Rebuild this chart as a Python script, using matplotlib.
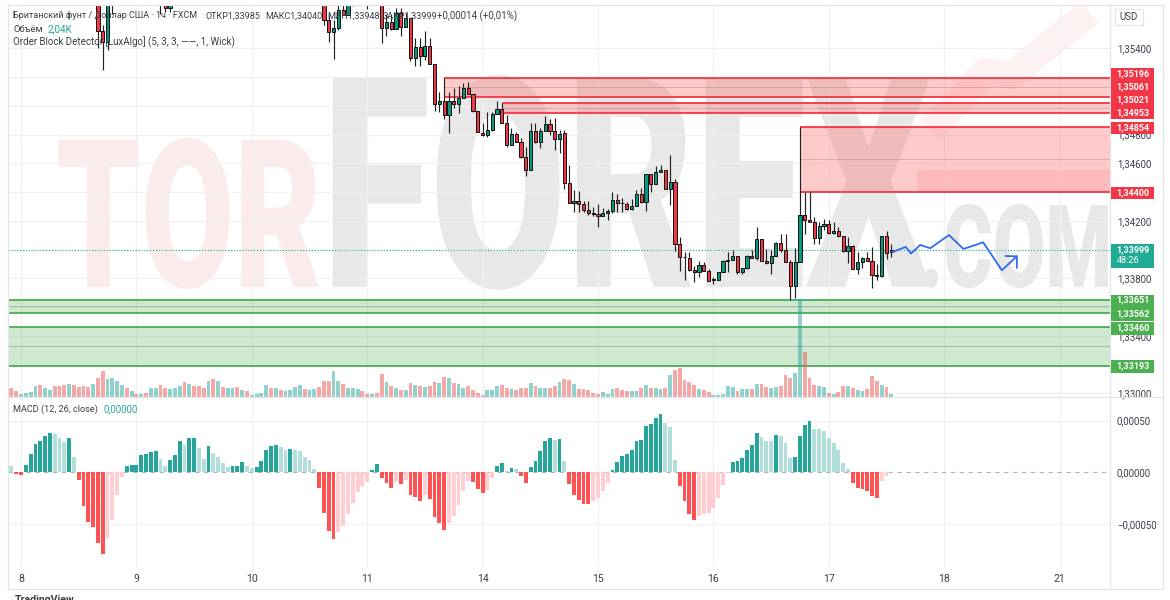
"""GBP/USD 1h chart with order blocks, volume and MACD histogram."""

import numpy as np
import matplotlib
matplotlib.use("Agg")
import matplotlib.pyplot as plt
import matplotlib.patheffects as pe
from matplotlib.lines import Line2D
from matplotlib.patches import Rectangle
from matplotlib.transforms import Affine2D

W, H = 1170, 600
PX_PER_BAR = 115.4 / 24
PRICE_PER_PX = 0.008 / 115

# bars sitting fully above the pane are left out
candle_idx = np.array([16, 17, 18, 19, 29, 30, 31, 63, 64, 65, 66, 67, 68, 69, 72] + list(range(75, 182)))
candle_open = np.array([
    1.35769, 1.35518, 1.35442, 1.3578, 1.3578, 1.35748, 1.35678, 1.35769, 1.35595, 1.35511, 1.35539, 1.35664, 1.3563, 1.3578, 1.3578,
    1.35769, 1.35539, 1.35581, 1.35532, 1.35644, 1.35546, 1.35609, 1.35330, 1.35407, 1.35344,
    1.35414, 1.35289, 1.35015, 1.35031, 1.34939, 1.35036, 1.35015, 1.35057, 1.35122, 1.35085,
    1.34962, 1.34811, 1.34797, 1.34834, 1.34946, 1.34978, 1.34883, 1.34727, 1.34807, 1.34748,
    1.34644, 1.34551, 1.34825, 1.34748, 1.34823, 1.34876, 1.34823, 1.34769, 1.34809, 1.34463,
    1.34327, 1.34341, 1.34320, 1.34278, 1.34254, 1.34250, 1.34236, 1.34257, 1.34268, 1.34347,
    1.34327, 1.34317, 1.34280, 1.34306, 1.34389, 1.34334, 1.34528, 1.34454, 1.34537, 1.34551,
    1.34424, 1.34468, 1.34036, 1.33948, 1.33944, 1.33858, 1.33842, 1.33890, 1.33851, 1.33793,
    1.33788, 1.33842, 1.33925, 1.33925, 1.33955, 1.33847, 1.33874, 1.33958, 1.33944, 1.34076,
    1.33920, 1.33906, 1.33958, 1.34048, 1.33995, 1.33916, 1.33746, 1.33916, 1.34238, 1.34208,
    1.34192, 1.34083, 1.34167, 1.34181, 1.34113, 1.34129, 1.34092, 1.33988, 1.34027, 1.33867,
    1.33911, 1.33944, 1.33923, 1.33824, 1.33816, 1.34092, 1.33985])
candle_close = np.array([
    1.35518, 1.35442, 1.35769, 1.3576, 1.3575, 1.35678, 1.35734, 1.35595, 1.35511, 1.35539, 1.35664, 1.3563, 1.35748, 1.3576, 1.3576,
    1.35539, 1.35581, 1.35532, 1.35644, 1.35546, 1.35609, 1.35330, 1.35407, 1.35344, 1.35414,
    1.35289, 1.35015, 1.35031, 1.34939, 1.35036, 1.35015, 1.35057, 1.35122, 1.35085, 1.34962,
    1.34818, 1.34797, 1.34834, 1.34946, 1.34978, 1.34883, 1.34727, 1.34807, 1.34748, 1.34642,
    1.34551, 1.34825, 1.34748, 1.34823, 1.34876, 1.34823, 1.34769, 1.34807, 1.34463, 1.34327,
    1.34341, 1.34320, 1.34278, 1.34254, 1.34250, 1.34236, 1.34257, 1.34268, 1.34347, 1.34327,
    1.34325, 1.34282, 1.34306, 1.34389, 1.34334, 1.34528, 1.34459, 1.34537, 1.34551, 1.34424,
    1.34470, 1.34036, 1.33946, 1.33946, 1.33858, 1.33842, 1.33890, 1.33851, 1.33784, 1.33791,
    1.33842, 1.33920, 1.33922, 1.33955, 1.33847, 1.33874, 1.33958, 1.33944, 1.34076, 1.33920,
    1.33906, 1.33958, 1.34048, 1.33995, 1.33916, 1.33746, 1.33916, 1.34238, 1.34206, 1.34192,
    1.34083, 1.34167, 1.34181, 1.34113, 1.34129, 1.34092, 1.33988, 1.34027, 1.33867, 1.33911,
    1.33944, 1.33923, 1.33826, 1.33819, 1.34092, 1.33976, 1.33999])
candle_high = np.array([
    1.358, 1.3556, 1.358, 1.358, 1.358, 1.3578, 1.3578, 1.358, 1.3564, 1.35595, 1.35734, 1.35734, 1.3578, 1.358, 1.358,
    1.358, 1.35637, 1.35637, 1.35678, 1.35678, 1.35644, 1.35609, 1.35470, 1.35470, 1.35518,
    1.35470, 1.35289, 1.35096, 1.35196, 1.35094, 1.35122, 1.35138, 1.35157, 1.35166, 1.35085,
    1.34962, 1.34878, 1.34955, 1.34955, 1.35031, 1.35021, 1.34934, 1.34846, 1.34818, 1.34776,
    1.34713, 1.34878, 1.34878, 1.34844, 1.34927, 1.34911, 1.34918, 1.34834, 1.34830, 1.34586,
    1.34417, 1.34405, 1.34338, 1.34338, 1.34296, 1.34315, 1.34289, 1.34280, 1.34398, 1.34389,
    1.34357, 1.34331, 1.34350, 1.34412, 1.34428, 1.34528, 1.34528, 1.34579, 1.34586, 1.34551,
    1.34661, 1.34494, 1.34087, 1.33983, 1.33983, 1.33883, 1.33918, 1.33913, 1.33867, 1.33809,
    1.33846, 1.33925, 1.33983, 1.34000, 1.33955, 1.33874, 1.33962, 1.33995, 1.34157, 1.34076,
    1.34007, 1.33995, 1.34052, 1.34111, 1.34111, 1.33925, 1.34009, 1.34854, 1.34400, 1.34400,
    1.34226, 1.34192, 1.34215, 1.34203, 1.34192, 1.34157, 1.34092, 1.34087, 1.34034, 1.33983,
    1.33948, 1.33983, 1.34018, 1.33902, 1.34092, 1.34127, 1.34040])
candle_low = np.array([
    1.35400, 1.35247, 1.35386, 1.35637, 1.35637, 1.35651, 1.35651, 1.3556, 1.35442, 1.35324, 1.35525, 1.3563, 1.3563, 1.35692, 1.35671,
    1.35435, 1.35484, 1.35525, 1.35532, 1.35484, 1.35546, 1.35310, 1.35275, 1.35275, 1.35317,
    1.35289, 1.34964, 1.34957, 1.34906, 1.34809, 1.34983, 1.34950, 1.35052, 1.35085, 1.34955,
    1.34816, 1.34788, 1.34781, 1.34826, 1.34946, 1.34883, 1.34713, 1.34727, 1.34748, 1.34637,
    1.34510, 1.34551, 1.34741, 1.34709, 1.34823, 1.34795, 1.34695, 1.34674, 1.34424, 1.34327,
    1.34261, 1.34261, 1.34261, 1.34238, 1.34231, 1.34157, 1.34236, 1.34203, 1.34257, 1.34261,
    1.34261, 1.34273, 1.34273, 1.34306, 1.34322, 1.34266, 1.34400, 1.34454, 1.34537, 1.34424,
    1.34308, 1.33990, 1.33849, 1.33791, 1.33851, 1.33774, 1.33809, 1.33851, 1.33784, 1.33758,
    1.33788, 1.33842, 1.33842, 1.33925, 1.33833, 1.33833, 1.33867, 1.33944, 1.33925, 1.33920,
    1.33897, 1.33833, 1.33958, 1.33983, 1.33916, 1.33651, 1.33661, 1.33916, 1.34106, 1.34192,
    1.34041, 1.34041, 1.34134, 1.34106, 1.34106, 1.34087, 1.33981, 1.33909, 1.33867, 1.33833,
    1.33874, 1.33923, 1.33735, 1.33791, 1.33809, 1.33937, 1.33948])

# volume in thousands, first bar is idx -3
volume = np.array([
    11, 6.75, 4.25, 2, 3, 4, 8.25, 9, 6.75, 5, 8.25, 8.25, 9, 10, 9, 7.75, 8.25, 7.75, 10, 14.5,
    19.25, 13.75, 14.5, 12.25, 9, 6.5, 4.25, 2.5, 2, 3.25, 6.5, 7, 9, 6.5, 6, 6.5, 8.25, 11.25, 10, 8.25,
    8, 7, 11.75, 13.5, 12.25, 7.75, 6.5, 6.5, 7.25, 5.5, 4.75, 1.75, 2, 3.25, 9, 6.5, 6.5, 5.5, 4.75, 5.5,
    7.75, 9, 6.25, 5.5, 5.75, 7.75, 12.25, 12.25, 19.25, 12.25, 9.5, 6.5, 6.5, 6, 4.75, 2.5, 2, 3.25, 17, 11.25,
    8.5, 6.5,
    5, 5.5, 10.75, 9, 8.5, 7.25, 8.5, 11.25, 10.75, 14.75, 14, 10.75, 9.5, 7, 8, 5.5, 3.25, 1.25, 5, 5,
    8, 8.75, 6.75, 6, 5, 6.75, 6.75, 10.75, 8, 6.75, 6.5, 6.75, 8.5, 11.25, 13.5, 12.75, 10, 5.75, 6.25, 5,
    2.75, 2, 3.75, 2.5, 6.25, 6.5, 5.5, 4.5, 4.25, 4.25, 6.5, 8.75, 7, 6.5, 6.25, 6.75, 16.25, 20, 21.75, 13,
    11.25, 8.75, 6, 5.5, 3.75, 1.75, 1.75, 2.5, 8, 7.5, 4.25, 5.75, 5.75, 5.75, 9.5, 9.5, 7.25, 6.75, 7.25, 8,
    16.25, 14.25, 18.25, 73.5, 33.75, 14.25, 9.25, 8.25, 7.5, 2.75, 2.5, 3.5, 8, 8, 6.75, 5.5, 4.5, 5.75, 16, 12,
    9, 7.5, 2.04])
volume_dir = ("GRRGGGGRGG" "RRRGRRRRGR" "RGGGGRGRGR" "GGRRGGGRGR" "RRGRGRGGRG" "RGGGGRGRGG"
              "GGRGGRRRGG" "RGGGRRGRRG" "RGRGRGRGRR" "GRGRGGRRRR" "GGGRRGRRRG" "RGGRRGRRGR"
              "RRRRGGGRRR" "GGRGRGGRGR" "RRRRGRRGGG" "GGRGGRGRRG" "GRRRGGRRRG" "GRGRRGRGGR" "RRGRG")

# MACD histogram in 1e-5, first bar is idx -3
macd_hist = np.array([
    5.8, 5.8, -1.3, -2.9, 7.1, 17.4, 27.1, 30.6, 35.2, 38.1, 37.4, 33.2, 29.0, 33.2, 15.2, -7.4, -32.3, -48.1, -52.6, -68.7,
    -79.0, -63.6, -45.8, -22.3, -4.5, 5.8, 7.1, 7.4, 16.8, 17.7, 20.0, 20.6, 13.2, 5.8, 11.9, 16.8, 30.3, 26.5, 33.2, 33.5,
    23.5, 13.2, 25.8, 18.4, 14.8, 9.4, 5.5, 5.8, 6.1, 10.3, 5.8, 3.9, 5.2, 11.0, 21.3, 25.8, 26.5, 24.2, 21.3, 22.3,
    21.3, 20.6, 14.8, 12.3, 3.2, -15.5, -39.4, -57.1, -64.5, -57.4, -51.6, -40.3, -29.7, -19.4, -12.9, -9.0, 2.6, 8.1, -5.8, -10.6,
    -14.8, -9.7, -11.3, -7.1, -21.6, -23.5, -27.4, -21.9, -25.8, -42.9, -49.4, -55.5, -49.0, -41.9, -31.6, -17.7, -8.4, -9.4, -16.1, -20.0,
    -16.8, -5.2, 6.5, 8.7, 1.6, 4.2, 2.9, -3.2, -10.6, 4.8, 11.0, 20.3, 30.0, 32.9, 31.3, 32.3, 10.6, -11.3, -21.6, -26.8,
    -30.3, -30.6, -27.7, -24.5, -17.7, -10.3, 2.6, 9.7, 15.8, 17.7, 21.6, 30.0, 31.3, 44.5, 47.1, 52.6, 56.1, 47.4, 44.2, 12.3,
    -12.9, -27.4, -40.0, -45.8, -42.6, -40.3, -39.4, -34.5, -25.2, -11.9, -0.6, 10.3, 11.0, 13.9, 21.3, 26.5, 37.7, 33.9, 30.3, 30.3,
    35.8, 35.2, 28.4, 13.9, 14.8, 35.5, 45.8, 49.4, 41.9, 41.9, 40.3, 33.2, 28.1, 21.3, 8.7, 3.2, -10.3, -15.5, -16.1, -17.7,
    -22.6, -25.2, -8.1, -3.2, 0.2])

# order blocks: bar where each starts, top, bottom
supply_start = [88, 100, 162]
supply_top = [1.35196, 1.35021, 1.34854]
supply_bottom = [1.35061, 1.34953, 1.34400]
demand_top = [1.33651, 1.33460]
demand_bottom = [1.33562, 1.33193]

# hand-drawn forecast
forecast_x = [181.2, 184.0, 185.1, 187.0, 189.1, 193.0, 196.0, 200.1, 204.0, 207.1]
forecast_y = [1.33983, 1.34018, 1.33972, 1.34032, 1.34009, 1.34101, 1.34004, 1.34050, 1.33856, 1.33953]
arrow_x = [204.8, 207.1, 207.1]
arrow_y = [1.33955, 1.33953, 1.33874]

last_price = 1.33999
price_ticks = [1.354, 1.352, 1.350, 1.348, 1.346, 1.344, 1.342, 1.340, 1.338, 1.336, 1.334, 1.332, 1.330]
price_tick_labels = ["1,35400", "", "", "1,34800", "1,34600", "", "1,34200", "", "1,33800", "", "1,33400", "", "1,33000"]
macd_ticks = [50, 0, -50]
day_labels = ["8", "9", "10", "11", "14", "15", "16", "17", "18", "21"]

UP, DOWN = "#089981", "#f23645"
TXT = "#3b3f4a"

plt.rcParams["font.family"] = ["Roboto", "DejaVu Sans"]
fig = plt.figure(figsize=(W / 100, H / 100), dpi=100)


def rect(x0, y0, x1, y1):
    return [x0 / W, 1 - y1 / H, (x1 - x0) / W, (y1 - y0) / H]


def idx_of(x):
    return (x - 21) / PX_PER_BAR


L, R = 8, 1110
ax = fig.add_axes(rect(L, 4.5, R, 397))
axv = fig.add_axes(rect(L, 4.5, R, 397), sharex=ax)
axm = fig.add_axes(rect(L, 397, R, 567), sharex=ax)

xlim = (idx_of(L), idx_of(R))
ax.set_xlim(xlim)
ax.set_ylim(1.33 - 3.7 * PRICE_PER_PX, 1.33 + 388.8 * PRICE_PER_PX)
axv.set_ylim(0, 392.5 * 0.75)
axv.axis("off")
axm.set_ylim(-(567 - 472.3) / 155 * 150, (472.3 - 397) / 155 * 150)

day_idx = np.arange(len(day_labels)) * 24
for a in (ax, axm):
    for s in a.spines.values():
        s.set_visible(False)
    a.set_xticks(day_idx)
    a.yaxis.tick_right()
    a.tick_params(length=0, labelcolor=TXT, labelsize=7.6, pad=5)
    a.tick_params(axis="y", labelsize=6.9)
    a.grid(color="#eff0f4", lw=0.8)
    a.set_axisbelow(True)
ax.tick_params(axis="x", labelbottom=False)
axm.set_xticklabels(day_labels)
ax.set_yticks(price_ticks)
ax.set_yticklabels(price_tick_labels)
axm.set_yticks(macd_ticks)
axm.set_yticklabels(["0,00050", "0,00000", "\u22120,00050"])
axm.get_ygridlines()[1].set_visible(False)

# watermark, squeezed sideways so the letters fit their real width
class Squeeze(pe.AbstractPathEffect):
    def __init__(self, x_from, sx, x_to):
        super().__init__()
        self.x_from, self.sx, self.x_to = x_from, sx, x_to

    def draw_path(self, renderer, gc, tpath, affine, rgbFace=None):
        squeeze = Affine2D().translate(-self.x_from, 0).scale(self.sx, 1).translate(self.x_to, 0)
        renderer.draw_path(gc, tpath, affine + squeeze, rgbFace)


renderer = fig.canvas.get_renderer()
for word, anchor, x0, x1, size, col in [("TOR", 225, 56, 322, 149, "#fbeceb"),
                                        ("FOREX", 600, 322, 932, 212, "#e8e8e8"),
                                        (".COM", 1000, 920, 1112, 83, "#e8e8e8")]:
    t = ax.text(anchor / W, 1 - 287 / H, word, transform=fig.transFigure, fontsize=size, fontweight=900,
                ha="center", va="baseline", color=col, zorder=0.2, clip_on=False)
    ext = t.get_window_extent(renderer)
    t.set_path_effects([Squeeze(ext.x0, (x1 - x0) / ext.width, x0)])

# faint logo arrow behind the blocks
logo_x = [930, 985, 1012, 1090]
logo_y = [131, 72, 75, 12]
ax.add_line(Line2D(np.array(logo_x) / W, 1 - np.array(logo_y) / H, transform=fig.transFigure,
                   color="#fdf2f1", lw=20, solid_capstyle="butt", solid_joinstyle="miter", zorder=0.2))
ax.add_patch(Rectangle((917 / W, 1 - 193 / H), 193 / W, 23 / H, transform=fig.transFigure,
                       color="#fbe9e8", lw=0, zorder=0.2))

# order blocks
for start, top, bot in zip(supply_start, supply_top, supply_bottom):
    ax.fill_between([start, xlim[1]], bot, top, color="#ff5252", alpha=0.3, lw=0, zorder=1)
    ax.hlines([top, bot], start, xlim[1], color=DOWN, lw=1.3, zorder=1.2)
    ax.hlines((top + bot) / 2, start, xlim[1], color="#7d6a6a", lw=0.6, alpha=0.35, zorder=1.2)
for top, bot in zip(demand_top, demand_bottom):
    ax.fill_between(xlim, bot, top, color="#4caf50", alpha=0.27, lw=0, zorder=1)
    ax.hlines([top, bot], *xlim, color="#4caf50", lw=1.3, zorder=1.2)
    ax.hlines((top + bot) / 2, *xlim, color="#6d7d6d", lw=0.6, alpha=0.5, zorder=1.2)

# candles
up = candle_close >= candle_open
ax.vlines(candle_idx, candle_low, candle_high, color="#222222", lw=0.85, zorder=2)
ax.bar(candle_idx, candle_close - candle_open, bottom=candle_open, width=0.66,
       color=np.where(up, UP, DOWN), edgecolor="#111111", lw=0.7, zorder=3)
ax.axhline(last_price, color="#22ab94", lw=0.8, ls=(0, (1, 1.6)), zorder=1.5)
ax.plot(forecast_x, forecast_y, color="#2f6bf5", lw=1.3, zorder=4)
ax.plot(arrow_x, arrow_y, color="#2f6bf5", lw=1.3, zorder=4)

# volume
vol_idx = np.arange(len(volume)) - 3
vol_col = ["#26a69a" if d == "G" else "#ef5350" for d in volume_dir]
axv.bar(vol_idx, volume, width=0.8, color=vol_col, alpha=0.5, lw=0)

# MACD histogram, shade follows rising or falling
hist_idx = np.arange(len(macd_hist)) - 3
prev = np.r_[np.inf, macd_hist[:-1]]
hist_col = []
for v, p in zip(macd_hist, prev):
    if v >= 0:
        hist_col.append("#26a69a" if v > p else "#b2dfdb")
    else:
        hist_col.append("#ff5252" if v < p else "#ffcdd2")
axm.axhline(0, color="#b2b5be", lw=0.8, ls=(0, (4, 4)), zorder=1)
axm.bar(hist_idx, macd_hist, width=0.8, color=hist_col, lw=0, zorder=2)

# frame
frame_col = "#e3e5ea"
for xs, ys in [([L, L], [4.5, 589]), ([R, R], [4.5, 589]), ([L, 1163], [589, 589]),
               ([1163, 1163], [4.5, 589]), ([L, 1163], [397, 397]), ([L, 1163], [4.5, 4.5])]:
    fig.add_artist(Line2D(np.array(xs) / W, 1 - np.array(ys) / H, color=frame_col, lw=0.9, zorder=2))


def label(x, y, s, color=TXT, size=6.5, ha="left", **kw):
    fig.text(x / W, 1 - y / H, s, color=color, fontsize=size, ha=ha, va="center", zorder=8, **kw)


# legend lines
label(13, 16, "Британский фунт / Доллар США · 1ч · FXCM")
label(205, 16, "ОТКР1,33985")
label(265, 16, "МАКС1,34040")
label(327, 16, "МИН1,33948")
label(383, 16, "ЗАКР1,33999")
label(437, 16, "+0,00014 (+0,01%)", size=7.0)
label(13, 29, "Объём", size=6.8)
label(47, 29, "2,04K", color="#26a69a", size=7.0)
label(13, 42, "Order Block Detector [LuxAlgo] (5, 3, 3, ——, 1, Wick)", size=7.0)
label(13, 409, "MACD (12, 26, close)", size=6.6)
label(104, 409, "0,00000", color="#26a69a", size=7.0)
label(15, 600, "TradingView", size=7.6, fontweight="bold")

# price scale pins
for x0, y0, x1, y1, col in [(1111, 68.3, 1154, 118.7, DOWN), (1111, 121.7, 1154, 134, DOWN),
                            (1111, 186.7, 1154, 198.7, DOWN), (1111, 244.3, 1154, 267.7, "#22ab94"),
                            (1111, 295, 1154, 320.7, "#4caf50"), (1111, 322, 1154, 334.7, "#4caf50"),
                            (1111, 360, 1154, 373.3, "#4caf50")]:
    fig.add_artist(Rectangle((x0 / W, 1 - y1 / H), (x1 - x0) / W, (y1 - y0) / H, color=col, lw=0, zorder=6))
pin_labels = ["1,35196", "1,35061", "1,35021", "1,34953", "1,34854", "1,34400", "1,33999", "48:26",
              "1,33651", "1,33562", "1,33460", "1,33193"]
pin_y = [73.3, 86.7, 99.3, 112.3, 127.3, 192.3, 250, 260.3, 300, 313.3, 328, 366]
for s, y in zip(pin_labels, pin_y):
    if s == "48:26":
        label(1117, y, s, color="white", size=6.6)
    else:
        label(1133, y, s, color="white", size=6.5, ha="center", fontweight="bold")

fig.add_artist(Rectangle((1115 / W, 1 - 25 / H), 28 / W, 16 / H, fc="white", ec=frame_col, lw=0.8, zorder=6))
label(1129, 17, "USD", size=7.0, ha="center")

fig.savefig("out.png", dpi=100)
